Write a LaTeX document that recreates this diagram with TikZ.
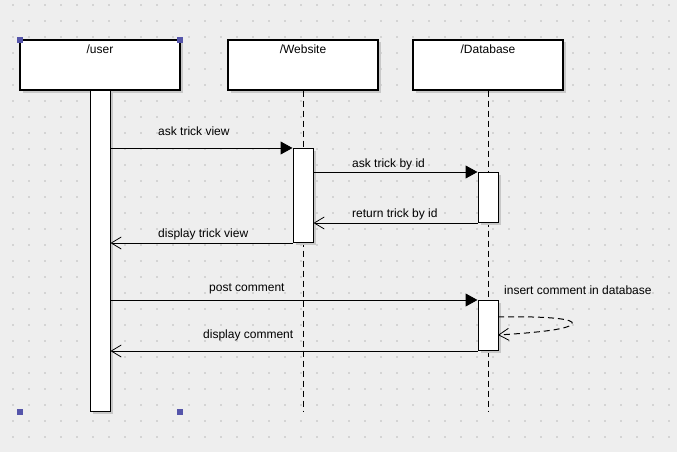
\documentclass[tikz,border=0pt]{standalone}
\usepackage{fontspec}
\setmainfont{Liberation Sans}
\usetikzlibrary{arrows.meta,shadows}
\definecolor{canvas}{HTML}{EEEEEE}
\definecolor{griddot}{HTML}{D4D4D4}
\definecolor{handle}{HTML}{5555AA}
\definecolor{shade}{HTML}{C8C8C8}
\tikzset{
  hdr/.style={draw=black, line width=1.2pt, fill=white, minimum width=150pt, minimum height=50pt, inner sep=0pt,
    drop shadow={shadow xshift=2.5pt, shadow yshift=-2.5pt, fill=shade, opacity=1}},
  act/.style={draw=black, line width=1pt, fill=white, minimum width=20pt, inner sep=0pt, anchor=north,
    drop shadow={shadow xshift=2.5pt, shadow yshift=-2.5pt, fill=shade, opacity=1}},
  hdrtext/.style={anchor=base, inner sep=0pt, font=\fontsize{12}{14}\selectfont},
  lbl/.style={anchor=base west, inner sep=0pt, font=\fontsize{12}{14}\selectfont},
  life/.style={line width=1pt, dash pattern=on 6pt off 4pt},
  call/.style={line width=1pt, -{Triangle[length=12pt, width=13pt]}},
  reply/.style={line width=1pt, -{Straight Barb[length=10pt, width=12pt, line width=0.8pt]}},
  selfcall/.style={line width=1pt, dash pattern=on 6pt off 4pt, -{Straight Barb[length=10pt, width=12pt, line width=0.8pt]}},
  grip/.style={fill=handle, draw=none, minimum size=6pt, inner sep=0pt},
}
\begin{document}
\begin{tikzpicture}[x=1pt, y=-1pt]
  % canvas and dot grid
  \fill[canvas] (0,0) rectangle (677,452);
  \useasboundingbox (0,0) rectangle (677,452);
  \foreach \i in {0,...,41} {
    \foreach \j in {0,...,27} {
      \fill[griddot] ({13+16*\i-1},{5+16*\j-1}) rectangle ++(2,2);
    }
  }

  % object headers
  \node[hdr, minimum width=160pt] (user) at (100,65) {};
  \node[hdr] (web) at (303,65) {};
  \node[hdr] (db) at (488,65) {};
  \node[hdrtext] (usertxt) at (100,53) {/user};
  \node[hdrtext] (webtxt) at (303,53) {/Website};
  \node[hdrtext] (dbtxt) at (488,53) {/Database};

  % lifelines
  \coordinate (webend) at (303,411);
  \coordinate (dbend) at (488,411);
  \draw[life] (web.south) -- (webend);
  \draw[life] (db.south) -- (dbend);

  % activations
  \node[act, minimum height=321pt] (uact) at (100,90) {};
  \node[act, minimum height=94pt] (wact) at (303,148) {};
  \node[act, minimum height=50pt] (dact1) at (488,172) {};
  \node[act, minimum height=50pt] (dact2) at (488,300) {};

  % messages
  \draw[call] (uact.east |- wact.north) -- (wact.north west);
  \draw[call] (wact.east |- dact1.north) -- (dact1.north west);
  \draw[reply] (dact1.south west) -- (wact.east |- dact1.south);
  \draw[reply] (wact.south west) -- (uact.east |- wact.south);
  \draw[call] (uact.east |- dact2.north) -- (dact2.north west);
  \draw[reply] (dact2.south west) -- (uact.east |- dact2.south);

  % self call on the database
  \coordinate (loopout) at (498,317);
  \coordinate (loopin) at (498,335);
  \draw[selfcall] (loopout) .. controls (548,316) and (576,319) .. (572,324)
    .. controls (568,330) and (530,333) .. (loopin);

  % message labels
  \node[lbl] (m1) at (158,135) {ask trick view};
  \node[lbl] (m2) at (352,167) {ask trick by id};
  \node[lbl] (m3) at (352,217) {return trick by id};
  \node[lbl] (m4) at (158,237) {display  trick view};
  \node[lbl] (m5) at (209,291) {post comment};
  \node[lbl] (m6) at (504,294) {insert comment in database};
  \node[lbl] (m7) at (203,338) {display comment};

  % selection grips
  \node[grip] (g1) at (20,40) {};
  \node[grip] (g2) at (180,40) {};
  \node[grip] (g3) at (20,412) {};
  \node[grip] (g4) at (180,412) {};
\end{tikzpicture}
\end{document}
